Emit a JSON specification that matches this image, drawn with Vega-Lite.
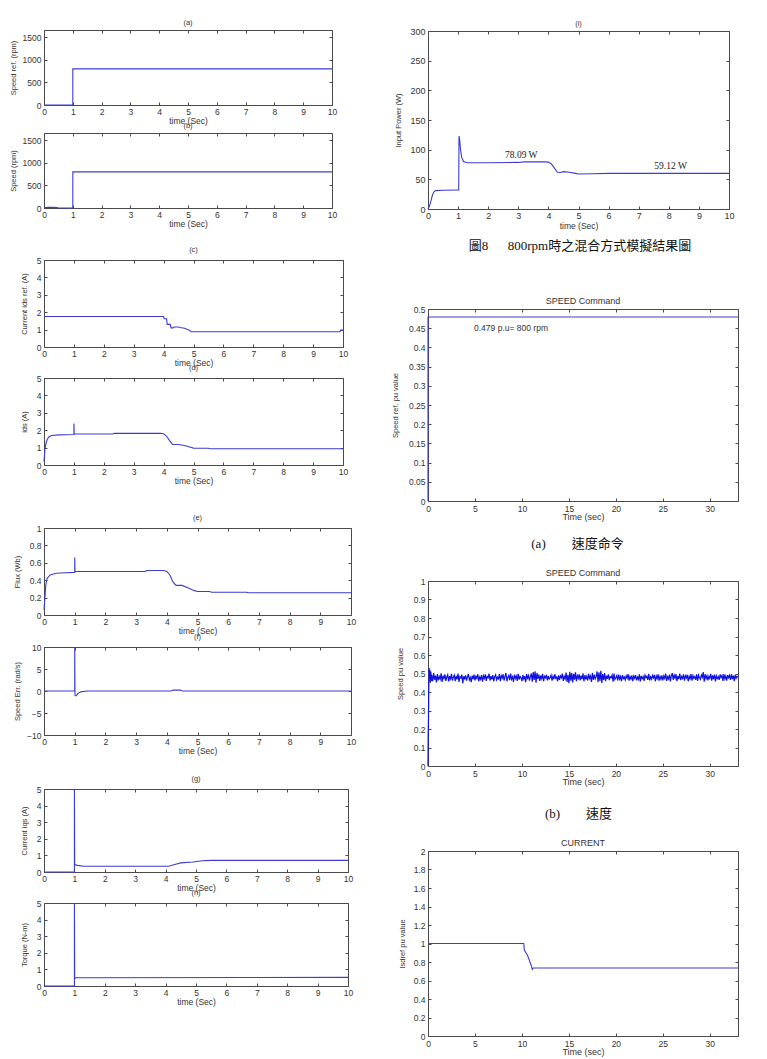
{
  "$schema": "https://vega.github.io/schema/vega-lite/v6.json",
  "background": "white",
  "padding": {"left": 8, "top": 0, "right": 0, "bottom": 0},
  "spacing": 33,
  "config": {
    "numberFormat": "~f",
    "view": {"stroke": "#4a4a4a", "strokeWidth": 1},
    "axis": {"grid": false, "domain": false, "ticks": true, "tickSize": -3, "tickColor": "#4a4a4a", "tickWidth": 1, "labelFont": "Liberation Sans", "labelFontSize": 8.5, "labelColor": "#333333", "labelPadding": 5, "labelFlush": false, "labelOverlap": false, "titleFont": "Liberation Sans", "titleFontSize": 8.5, "titleFontWeight": "normal", "titleColor": "#333333", "titlePadding": 1},
    "axisY": {"titleFontSize": 7.5, "titlePadding": 8, "labelPadding": 6},
    "title": {"font": "Liberation Sans", "fontSize": 7.5, "fontWeight": "normal", "color": "#333333", "offset": 3, "anchor": "middle"},
    "line": {"color": "#3c3cd2", "strokeWidth": 1.1, "clip": true}
  },
  "hconcat": [
    {
      "vconcat": [
        {"width": 100, "height": 30, "view": {"stroke": null}, "data": {"values": []}, "mark": "point"},
        {
          "width": 288, "height": 75, "title": {"text": "(a)"},
          "layer": [
            {"data": {"values": [{"t": 0, "v": 0}, {"t": 1, "v": 0}, {"t": 1.001, "v": 800}, {"t": 10, "v": 800}]},
             "mark": "line",
             "encoding": {
               "x": {"field": "t", "type": "quantitative", "scale": {"domain": [0, 10], "nice": false}, "axis": {"values": [0,1,2,3,4,5,6,7,8,9,10], "title": "time (Sec)"}},
               "y": {"field": "v", "type": "quantitative", "scale": {"domain": [0, 1660], "nice": false}, "axis": {"values": [0,500,1000,1500], "title": "Speed ref. (rpm)", "titlePadding": 5}}}},
            {"data": {"values": [{"t": 0, "v": 0}]}, "mark": {"type": "point", "opacity": 0},
             "encoding": {
               "x": {"field": "t", "type": "quantitative", "scale": {"domain": [0, 10], "nice": false}, "axis": {"orient": "top", "values": [0,1,2,3,4,5,6,7,8,9,10], "labels": false, "title": null}},
               "y": {"field": "v", "type": "quantitative", "scale": {"domain": [0, 1660], "nice": false}, "axis": {"orient": "right", "values": [0,500,1000,1500], "labels": false, "title": null}}}}
          ],
          "resolve": {"axis": {"x": "independent", "y": "independent"}}
        },
        {"width": 100, "height": 28, "view": {"stroke": null}, "data": {"values": []}, "mark": "point"},
        {
          "width": 288, "height": 75, "title": {"text": "(b)"},
          "layer": [
            {"data": {"values": [{"t": 0, "v": 0}, {"t": 0.05, "v": 12}, {"t": 0.15, "v": 18}, {"t": 0.3, "v": 14}, {"t": 0.45, "v": 8}, {"t": 0.5, "v": 0}, {"t": 1, "v": 0}, {"t": 1.001, "v": 800}, {"t": 10, "v": 800}]},
             "mark": "line",
             "encoding": {
               "x": {"field": "t", "type": "quantitative", "scale": {"domain": [0, 10], "nice": false}, "axis": {"values": [0,1,2,3,4,5,6,7,8,9,10], "title": "time (Sec)"}},
               "y": {"field": "v", "type": "quantitative", "scale": {"domain": [0, 1660], "nice": false}, "axis": {"values": [0,500,1000,1500], "title": "Speed (rpm)", "titlePadding": 5}}}},
            {"data": {"values": [{"t": 0, "v": 0}]}, "mark": {"type": "point", "opacity": 0},
             "encoding": {
               "x": {"field": "t", "type": "quantitative", "scale": {"domain": [0, 10], "nice": false}, "axis": {"orient": "top", "values": [0,1,2,3,4,5,6,7,8,9,10], "labels": false, "title": null}},
               "y": {"field": "v", "type": "quantitative", "scale": {"domain": [0, 1660], "nice": false}, "axis": {"orient": "right", "values": [0,500,1000,1500], "labels": false, "title": null}}}}
          ],
          "resolve": {"axis": {"x": "independent", "y": "independent"}}
        },
        {"width": 100, "height": 52, "view": {"stroke": null}, "data": {"values": []}, "mark": "point"},
        {
          "width": 299, "height": 87, "title": {"text": "(c)"},
          "layer": [
            {"data": {"values": [
              {"t": 0, "v": 1.75}, {"t": 4.0, "v": 1.75}, {"t": 4.02, "v": 1.62}, {"t": 4.1, "v": 1.62}, {"t": 4.12, "v": 1.3},
              {"t": 4.22, "v": 1.3}, {"t": 4.25, "v": 1.1}, {"t": 4.32, "v": 1.1}, {"t": 4.35, "v": 1.15}, {"t": 4.5, "v": 1.15},
              {"t": 4.55, "v": 1.12}, {"t": 4.7, "v": 1.08}, {"t": 4.8, "v": 1.0}, {"t": 4.88, "v": 0.95}, {"t": 4.92, "v": 0.88},
              {"t": 9.9, "v": 0.88}, {"t": 9.92, "v": 0.97}, {"t": 10, "v": 0.97}]},
             "mark": "line",
             "encoding": {
               "x": {"field": "t", "type": "quantitative", "scale": {"domain": [0, 10], "nice": false}, "axis": {"values": [0,1,2,3,4,5,6,7,8,9,10], "title": "time (Sec)"}},
               "y": {"field": "v", "type": "quantitative", "scale": {"domain": [0, 5], "nice": false}, "axis": {"values": [0,1,2,3,4,5], "title": "Current ids ref. (A)"}}}},
            {"data": {"values": [{"t": 0, "v": 0}]}, "mark": {"type": "point", "opacity": 0},
             "encoding": {
               "x": {"field": "t", "type": "quantitative", "scale": {"domain": [0, 10], "nice": false}, "axis": {"orient": "top", "values": [0,1,2,3,4,5,6,7,8,9,10], "labels": false, "title": null}},
               "y": {"field": "v", "type": "quantitative", "scale": {"domain": [0, 5], "nice": false}, "axis": {"orient": "right", "values": [0,1,2,3,4,5], "labels": false, "title": null}}}}
          ],
          "resolve": {"axis": {"x": "independent", "y": "independent"}}
        },
        {"width": 100, "height": 31, "view": {"stroke": null}, "data": {"values": []}, "mark": "point"},
        {
          "width": 299, "height": 87, "title": {"text": "(d)"},
          "layer": [
            {"data": {"values": [
              {"t": 0, "v": 0.2}, {"t": 0.03, "v": 0.9}, {"t": 0.08, "v": 1.35}, {"t": 0.15, "v": 1.6}, {"t": 0.25, "v": 1.7},
              {"t": 0.5, "v": 1.73}, {"t": 1.0, "v": 1.75}, {"t": 1.001, "v": 2.38}, {"t": 1.01, "v": 1.78}, {"t": 2.3, "v": 1.78},
              {"t": 2.35, "v": 1.82}, {"t": 3.9, "v": 1.82}, {"t": 4.0, "v": 1.8}, {"t": 4.1, "v": 1.65}, {"t": 4.2, "v": 1.4},
              {"t": 4.3, "v": 1.18}, {"t": 4.5, "v": 1.18}, {"t": 4.7, "v": 1.12}, {"t": 4.9, "v": 1.02}, {"t": 5.0, "v": 0.97},
              {"t": 5.5, "v": 0.96}, {"t": 5.55, "v": 0.93}, {"t": 10, "v": 0.93}]},
             "mark": "line",
             "encoding": {
               "x": {"field": "t", "type": "quantitative", "scale": {"domain": [0, 10], "nice": false}, "axis": {"values": [0,1,2,3,4,5,6,7,8,9,10], "title": "time (Sec)"}},
               "y": {"field": "v", "type": "quantitative", "scale": {"domain": [0, 5], "nice": false}, "axis": {"values": [0,1,2,3,4,5], "title": "ids (A)"}}}},
            {"data": {"values": [{"t": 0, "v": 0}]}, "mark": {"type": "point", "opacity": 0},
             "encoding": {
               "x": {"field": "t", "type": "quantitative", "scale": {"domain": [0, 10], "nice": false}, "axis": {"orient": "top", "values": [0,1,2,3,4,5,6,7,8,9,10], "labels": false, "title": null}},
               "y": {"field": "v", "type": "quantitative", "scale": {"domain": [0, 5], "nice": false}, "axis": {"orient": "right", "values": [0,1,2,3,4,5], "labels": false, "title": null}}}}
          ],
          "resolve": {"axis": {"x": "independent", "y": "independent"}}
        },
        {"width": 100, "height": 63, "view": {"stroke": null}, "data": {"values": []}, "mark": "point"},
        {
          "width": 307, "height": 87, "title": {"text": "(e)"},
          "layer": [
            {"data": {"values": [
              {"t": 0, "v": 0.06}, {"t": 0.03, "v": 0.2}, {"t": 0.06, "v": 0.35}, {"t": 0.1, "v": 0.42}, {"t": 0.2, "v": 0.46},
              {"t": 0.4, "v": 0.48}, {"t": 0.7, "v": 0.485}, {"t": 1.0, "v": 0.49}, {"t": 1.001, "v": 0.66}, {"t": 1.01, "v": 0.5},
              {"t": 3.3, "v": 0.5}, {"t": 3.35, "v": 0.512}, {"t": 3.9, "v": 0.512}, {"t": 4.0, "v": 0.5}, {"t": 4.1, "v": 0.46},
              {"t": 4.2, "v": 0.38}, {"t": 4.3, "v": 0.34}, {"t": 4.5, "v": 0.34}, {"t": 4.7, "v": 0.31}, {"t": 4.9, "v": 0.28},
              {"t": 5.0, "v": 0.27}, {"t": 5.4, "v": 0.27}, {"t": 5.45, "v": 0.262}, {"t": 6.6, "v": 0.262}, {"t": 6.65, "v": 0.255},
              {"t": 10, "v": 0.255}]},
             "mark": "line",
             "encoding": {
               "x": {"field": "t", "type": "quantitative", "scale": {"domain": [0, 10], "nice": false}, "axis": {"values": [0,1,2,3,4,5,6,7,8,9,10], "title": "time (Sec)"}},
               "y": {"field": "v", "type": "quantitative", "scale": {"domain": [0, 1], "nice": false}, "axis": {"values": [0,0.2,0.4,0.6,0.8,1], "format": ".1~f", "title": "Flux (Wb)"}}}},
            {"data": {"values": [{"t": 0, "v": 0}]}, "mark": {"type": "point", "opacity": 0},
             "encoding": {
               "x": {"field": "t", "type": "quantitative", "scale": {"domain": [0, 10], "nice": false}, "axis": {"orient": "top", "values": [0,1,2,3,4,5,6,7,8,9,10], "labels": false, "title": null}},
               "y": {"field": "v", "type": "quantitative", "scale": {"domain": [0, 1], "nice": false}, "axis": {"orient": "right", "values": [0,0.2,0.4,0.6,0.8,1], "labels": false, "title": null}}}}
          ],
          "resolve": {"axis": {"x": "independent", "y": "independent"}}
        },
        {"width": 100, "height": 32, "view": {"stroke": null}, "data": {"values": []}, "mark": "point"},
        {
          "width": 307, "height": 88, "title": {"text": "(f)"},
          "layer": [
            {"data": {"values": [
              {"t": 0, "v": 0}, {"t": 1, "v": 0}, {"t": 1.001, "v": 10}, {"t": 1.01, "v": -1}, {"t": 1.05, "v": -1.1},
              {"t": 1.1, "v": -0.6}, {"t": 1.2, "v": -0.2}, {"t": 1.4, "v": 0}, {"t": 4.15, "v": 0}, {"t": 4.2, "v": 0.2},
              {"t": 4.45, "v": 0.2}, {"t": 4.5, "v": 0}, {"t": 10, "v": 0}]},
             "mark": "line",
             "encoding": {
               "x": {"field": "t", "type": "quantitative", "scale": {"domain": [0, 10], "nice": false}, "axis": {"values": [0,1,2,3,4,5,6,7,8,9,10], "title": "time (Sec)"}},
               "y": {"field": "v", "type": "quantitative", "scale": {"domain": [-10, 10], "nice": false}, "axis": {"values": [-10,-5,0,5,10], "title": "Speed Err. (rad/s)", "titlePadding": 5}}}},
            {"data": {"values": [{"t": 0, "v": 0}]}, "mark": {"type": "point", "opacity": 0},
             "encoding": {
               "x": {"field": "t", "type": "quantitative", "scale": {"domain": [0, 10], "nice": false}, "axis": {"orient": "top", "values": [0,1,2,3,4,5,6,7,8,9,10], "labels": false, "title": null}},
               "y": {"field": "v", "type": "quantitative", "scale": {"domain": [-10, 10], "nice": false}, "axis": {"orient": "right", "values": [-10,-5,0,5,10], "labels": false, "title": null}}}}
          ],
          "resolve": {"axis": {"x": "independent", "y": "independent"}}
        },
        {"width": 100, "height": 54, "view": {"stroke": null}, "data": {"values": []}, "mark": "point"},
        {
          "width": 304, "height": 83, "title": {"text": "(g)"},
          "layer": [
            {"data": {"values": [
              {"t": 0, "v": 0}, {"t": 1, "v": 0}, {"t": 1.001, "v": 5}, {"t": 1.01, "v": 0.45}, {"t": 1.1, "v": 0.4},
              {"t": 1.3, "v": 0.35}, {"t": 4.1, "v": 0.35}, {"t": 4.3, "v": 0.45}, {"t": 4.5, "v": 0.55}, {"t": 4.9, "v": 0.6},
              {"t": 5.2, "v": 0.68}, {"t": 5.5, "v": 0.7}, {"t": 10, "v": 0.7}]},
             "mark": "line",
             "encoding": {
               "x": {"field": "t", "type": "quantitative", "scale": {"domain": [0, 10], "nice": false}, "axis": {"values": [0,1,2,3,4,5,6,7,8,9,10], "title": "time (Sec)"}},
               "y": {"field": "v", "type": "quantitative", "scale": {"domain": [0, 5], "nice": false}, "axis": {"values": [0,1,2,3,4,5], "title": "Current iqs (A)"}}}},
            {"data": {"values": [{"t": 0, "v": 0}]}, "mark": {"type": "point", "opacity": 0},
             "encoding": {
               "x": {"field": "t", "type": "quantitative", "scale": {"domain": [0, 10], "nice": false}, "axis": {"orient": "top", "values": [0,1,2,3,4,5,6,7,8,9,10], "labels": false, "title": null}},
               "y": {"field": "v", "type": "quantitative", "scale": {"domain": [0, 5], "nice": false}, "axis": {"orient": "right", "values": [0,1,2,3,4,5], "labels": false, "title": null}}}}
          ],
          "resolve": {"axis": {"x": "independent", "y": "independent"}}
        },
        {"width": 100, "height": 31, "view": {"stroke": null}, "data": {"values": []}, "mark": "point"},
        {
          "width": 304, "height": 83, "title": {"text": "(h)"},
          "layer": [
            {"data": {"values": [
              {"t": 0, "v": 0}, {"t": 1, "v": 0}, {"t": 1.001, "v": 5}, {"t": 1.01, "v": 0.45}, {"t": 1.05, "v": 0.5}, {"t": 10, "v": 0.52}]},
             "mark": "line",
             "encoding": {
               "x": {"field": "t", "type": "quantitative", "scale": {"domain": [0, 10], "nice": false}, "axis": {"values": [0,1,2,3,4,5,6,7,8,9,10], "title": "time (Sec)"}},
               "y": {"field": "v", "type": "quantitative", "scale": {"domain": [0, 5], "nice": false}, "axis": {"values": [0,1,2,3,4,5], "title": "Torque (N-m)"}}}},
            {"data": {"values": [{"t": 0, "v": 0}]}, "mark": {"type": "point", "opacity": 0},
             "encoding": {
               "x": {"field": "t", "type": "quantitative", "scale": {"domain": [0, 10], "nice": false}, "axis": {"orient": "top", "values": [0,1,2,3,4,5,6,7,8,9,10], "labels": false, "title": null}},
               "y": {"field": "v", "type": "quantitative", "scale": {"domain": [0, 5], "nice": false}, "axis": {"orient": "right", "values": [0,1,2,3,4,5], "labels": false, "title": null}}}}
          ],
          "resolve": {"axis": {"x": "independent", "y": "independent"}}
        }
      ],
      "spacing": 0,
      "bounds": "flush"
    },
    {
      "vconcat": [
        {"width": 100, "height": 31, "view": {"stroke": null}, "data": {"values": []}, "mark": "point"},
        {
          "width": 301, "height": 178, "title": {"text": "(i)", "offset": 0},
          "layer": [
            {"data": {"values": [
              {"t": 0, "v": 0}, {"t": 0.05, "v": 5}, {"t": 0.1, "v": 14}, {"t": 0.15, "v": 24}, {"t": 0.2, "v": 29}, {"t": 0.25, "v": 31},
              {"t": 0.5, "v": 31.5}, {"t": 1.0, "v": 32}, {"t": 1.02, "v": 32}, {"t": 1.03, "v": 123}, {"t": 1.05, "v": 118},
              {"t": 1.08, "v": 100}, {"t": 1.12, "v": 87}, {"t": 1.18, "v": 80}, {"t": 1.3, "v": 78}, {"t": 2.0, "v": 78},
              {"t": 3.0, "v": 78.5}, {"t": 3.2, "v": 79.5}, {"t": 3.9, "v": 79.5}, {"t": 4.0, "v": 79}, {"t": 4.1, "v": 76},
              {"t": 4.2, "v": 69}, {"t": 4.3, "v": 62}, {"t": 4.4, "v": 61.5}, {"t": 4.5, "v": 63}, {"t": 4.7, "v": 62},
              {"t": 4.9, "v": 60}, {"t": 5.0, "v": 59}, {"t": 5.5, "v": 59.5}, {"t": 6.0, "v": 60}, {"t": 10, "v": 60}]},
             "mark": "line",
             "encoding": {
               "x": {"field": "t", "type": "quantitative", "scale": {"domain": [0, 10], "nice": false}, "axis": {"values": [0,1,2,3,4,5,6,7,8,9,10], "title": "time (Sec)", "labelFontSize": 9}},
               "y": {"field": "v", "type": "quantitative", "scale": {"domain": [0, 300], "nice": false}, "axis": {"values": [0,50,100,150,200,250,300], "title": "Input Power (W)", "labelFontSize": 9, "titlePadding": 7}}}},
            {"data": {"values": [{"t": 3.1, "v": 91, "label": "78.09 W"}, {"t": 8.06, "v": 72, "label": "59.12 W"}]},
             "mark": {"type": "text", "font": "Liberation Serif", "fontSize": 9.5, "color": "#222222"},
             "encoding": {
               "x": {"field": "t", "type": "quantitative", "scale": {"domain": [0, 10], "nice": false}, "axis": null},
               "y": {"field": "v", "type": "quantitative", "scale": {"domain": [0, 300], "nice": false}, "axis": null},
               "text": {"field": "label"}}},
            {"data": {"values": [{"t": 0, "v": 0}]}, "mark": {"type": "point", "opacity": 0},
             "encoding": {
               "x": {"field": "t", "type": "quantitative", "scale": {"domain": [0, 10], "nice": false}, "axis": {"orient": "top", "values": [0,1,2,3,4,5,6,7,8,9,10], "labels": false, "title": null}},
               "y": {"field": "v", "type": "quantitative", "scale": {"domain": [0, 300], "nice": false}, "axis": {"orient": "right", "values": [0,50,100,150,200,250,300], "labels": false, "title": null}}}}
          ],
          "resolve": {"axis": {"x": "independent", "y": "independent"}}
        },
        {"width": 100, "height": 54, "view": {"stroke": null}, "data": {"values": []}, "mark": "point"},
        {"width": 304, "height": 46, "view": {"stroke": null}, "data": {"values": []}, "mark": "point",
         "title": {"text": "圖8\u3000\u2002800rpm時之混合方式模擬結果圖", "font": "'Liberation Serif', 'Noto Sans CJK TC'", "fontSize": 13, "color": "#111111", "offset": 0, "baseline": "alphabetic", "anchor": "middle", "frame": "group"}},
        {
          "width": 310, "height": 192, "title": {"text": "SPEED Command", "fontSize": 9, "offset": -1},
          "layer": [
            {"data": {"values": [{"t": 0, "v": 0}, {"t": 0.001, "v": 0.479}, {"t": 33, "v": 0.479}]},
             "mark": "line",
             "encoding": {
               "x": {"field": "t", "type": "quantitative", "scale": {"domain": [0, 33], "nice": false}, "axis": {"values": [0,5,10,15,20,25,30], "title": "Time (sec)", "titleFontSize": 9, "labelPadding": 6, "titlePadding": 0}},
               "y": {"field": "v", "type": "quantitative", "scale": {"domain": [0, 0.5], "nice": false}, "axis": {"values": [0,0.05,0.1,0.15,0.2,0.25,0.3,0.35,0.4,0.45,0.5], "format": ".2~f", "title": "Speed ref. pu value", "titlePadding": 9}}}},
            {"data": {"values": [{"t": 4.9, "v": 0.45, "label": "0.479 p.u= 800 rpm"}]},
             "mark": {"type": "text", "align": "left", "font": "Liberation Sans", "fontSize": 8.5, "color": "#333333"},
             "encoding": {
               "x": {"field": "t", "type": "quantitative", "scale": {"domain": [0, 33], "nice": false}, "axis": null},
               "y": {"field": "v", "type": "quantitative", "scale": {"domain": [0, 0.5], "nice": false}, "axis": null},
               "text": {"field": "label"}}},
            {"data": {"values": [{"t": 0, "v": 0}]}, "mark": {"type": "point", "opacity": 0},
             "encoding": {
               "x": {"field": "t", "type": "quantitative", "scale": {"domain": [0, 33], "nice": false}, "axis": {"orient": "top", "values": [0,5,10,15,20,25,30], "labels": false, "title": null}},
               "y": {"field": "v", "type": "quantitative", "scale": {"domain": [0, 0.5], "nice": false}, "axis": {"orient": "right", "values": [0,0.05,0.1,0.15,0.2,0.25,0.3,0.35,0.4,0.45,0.5], "labels": false, "title": null}}}}
          ],
          "resolve": {"axis": {"x": "independent", "y": "independent"}}
        },
        {"width": 100, "height": 60, "view": {"stroke": null}, "data": {"values": []}, "mark": "point"},
        {"width": 299, "height": 20, "view": {"stroke": null}, "data": {"values": []}, "mark": "point",
         "title": {"text": "(a)\u3000\u3000速度命令", "font": "'Liberation Serif', 'Noto Sans CJK TC'", "fontSize": 13, "color": "#111111", "offset": 0, "baseline": "alphabetic", "anchor": "middle", "frame": "group"}},
        {
          "width": 310, "height": 185, "title": {"text": "SPEED Command", "fontSize": 9, "offset": -1},
          "layer": [
            {"data": {"values": [
              {"t": 0, "v": 0}, {"t": 0.02, "v": 0.17}, {"t": 0.05, "v": 0.25}, {"t": 0.08, "v": 0.41}, {"t": 0.12, "v": 0.53},
              {"t": 0.16, "v": 0.47}, {"t": 0.2, "v": 0.52}, {"t": 0.25, "v": 0.45}, {"t": 0.3, "v": 0.51}, {"t": 0.35, "v": 0.46},
              {"t": 0.4, "v": 0.492}, {"t": 0.5, "v": 0.458}, {"t": 0.6, "v": 0.503}, {"t": 0.7, "v": 0.466}, {"t": 0.8, "v": 0.489}, {"t": 0.9, "v": 0.452},
              {"t": 1.0, "v": 0.497}, {"t": 1.1, "v": 0.463}, {"t": 1.2, "v": 0.484}, {"t": 1.3, "v": 0.47}, {"t": 1.4, "v": 0.501}, {"t": 1.5, "v": 0.455}, {"t": 1.6, "v": 0.488}, {"t": 1.7, "v": 0.474}, {"t": 1.8, "v": 0.495}, {"t": 1.9, "v": 0.46},
              {"t": 2.0, "v": 0.481}, {"t": 2.1, "v": 0.493}, {"t": 2.2, "v": 0.457}, {"t": 2.3, "v": 0.486}, {"t": 2.4, "v": 0.471}, {"t": 2.5, "v": 0.498}, {"t": 2.6, "v": 0.462}, {"t": 2.7, "v": 0.48}, {"t": 2.8, "v": 0.491}, {"t": 2.9, "v": 0.459},
              {"t": 3.0, "v": 0.487}, {"t": 3.1, "v": 0.468}, {"t": 3.2, "v": 0.499}, {"t": 3.3, "v": 0.454}, {"t": 3.4, "v": 0.483}, {"t": 3.5, "v": 0.476}, {"t": 3.6, "v": 0.494}, {"t": 3.7, "v": 0.447}, {"t": 3.8, "v": 0.485}, {"t": 3.9, "v": 0.472},
              {"t": 4.0, "v": 0.49}, {"t": 4.1, "v": 0.461}, {"t": 4.2, "v": 0.482}, {"t": 4.3, "v": 0.497}, {"t": 4.4, "v": 0.465}, {"t": 4.5, "v": 0.479}, {"t": 4.6, "v": 0.453}, {"t": 4.7, "v": 0.488}, {"t": 4.8, "v": 0.47}, {"t": 4.9, "v": 0.494},
              {"t": 5.0, "v": 0.463}, {"t": 5.1, "v": 0.485}, {"t": 5.2, "v": 0.474}, {"t": 5.3, "v": 0.496}, {"t": 5.4, "v": 0.458}, {"t": 5.5, "v": 0.481}, {"t": 5.6, "v": 0.469}, {"t": 5.7, "v": 0.492}, {"t": 5.8, "v": 0.456}, {"t": 5.9, "v": 0.487},
              {"t": 6.0, "v": 0.473}, {"t": 6.1, "v": 0.495}, {"t": 6.2, "v": 0.46}, {"t": 6.3, "v": 0.484}, {"t": 6.4, "v": 0.477}, {"t": 6.5, "v": 0.499}, {"t": 6.6, "v": 0.462}, {"t": 6.7, "v": 0.486}, {"t": 6.8, "v": 0.468}, {"t": 6.9, "v": 0.491},
              {"t": 7.0, "v": 0.457}, {"t": 7.1, "v": 0.483}, {"t": 7.2, "v": 0.494}, {"t": 7.3, "v": 0.466}, {"t": 7.4, "v": 0.48}, {"t": 7.5, "v": 0.471}, {"t": 7.6, "v": 0.497}, {"t": 7.7, "v": 0.459}, {"t": 7.8, "v": 0.488}, {"t": 7.9, "v": 0.475},
              {"t": 8.0, "v": 0.496}, {"t": 8.1, "v": 0.462}, {"t": 8.2, "v": 0.485}, {"t": 8.3, "v": 0.503}, {"t": 8.4, "v": 0.458}, {"t": 8.5, "v": 0.479}, {"t": 8.6, "v": 0.49}, {"t": 8.7, "v": 0.464}, {"t": 8.8, "v": 0.5}, {"t": 8.9, "v": 0.469},
              {"t": 9.0, "v": 0.482}, {"t": 9.1, "v": 0.455}, {"t": 9.2, "v": 0.494}, {"t": 9.3, "v": 0.473}, {"t": 9.4, "v": 0.487}, {"t": 9.5, "v": 0.46}, {"t": 9.6, "v": 0.498}, {"t": 9.7, "v": 0.467}, {"t": 9.8, "v": 0.484}, {"t": 9.9, "v": 0.477},
              {"t": 10.0, "v": 0.459}, {"t": 10.1, "v": 0.492}, {"t": 10.2, "v": 0.47}, {"t": 10.3, "v": 0.486}, {"t": 10.4, "v": 0.453}, {"t": 10.5, "v": 0.497}, {"t": 10.6, "v": 0.475}, {"t": 10.7, "v": 0.489}, {"t": 10.8, "v": 0.462}, {"t": 10.9, "v": 0.483},
              {"t": 11.0, "v": 0.5}, {"t": 11.1, "v": 0.456}, {"t": 11.2, "v": 0.508}, {"t": 11.3, "v": 0.465}, {"t": 11.4, "v": 0.512}, {"t": 11.5, "v": 0.45}, {"t": 11.6, "v": 0.503}, {"t": 11.7, "v": 0.471}, {"t": 11.8, "v": 0.494}, {"t": 11.9, "v": 0.46},
              {"t": 12.0, "v": 0.489}, {"t": 12.1, "v": 0.473}, {"t": 12.2, "v": 0.498}, {"t": 12.3, "v": 0.458}, {"t": 12.4, "v": 0.484}, {"t": 12.5, "v": 0.476}, {"t": 12.6, "v": 0.493}, {"t": 12.7, "v": 0.463}, {"t": 12.8, "v": 0.487}, {"t": 12.9, "v": 0.47},
              {"t": 13.0, "v": 0.478}, {"t": 13.1, "v": 0.491}, {"t": 13.2, "v": 0.462}, {"t": 13.3, "v": 0.485}, {"t": 13.4, "v": 0.469}, {"t": 13.5, "v": 0.496}, {"t": 13.6, "v": 0.474}, {"t": 13.7, "v": 0.481}, {"t": 13.8, "v": 0.458}, {"t": 13.9, "v": 0.49},
              {"t": 14.0, "v": 0.466}, {"t": 14.1, "v": 0.487}, {"t": 14.2, "v": 0.477}, {"t": 14.3, "v": 0.499}, {"t": 14.4, "v": 0.46}, {"t": 14.5, "v": 0.484}, {"t": 14.6, "v": 0.471}, {"t": 14.7, "v": 0.505}, {"t": 14.8, "v": 0.455}, {"t": 14.9, "v": 0.493},
              {"t": 15.0, "v": 0.448}, {"t": 15.1, "v": 0.509}, {"t": 15.2, "v": 0.461}, {"t": 15.3, "v": 0.502}, {"t": 15.4, "v": 0.452}, {"t": 15.5, "v": 0.498}, {"t": 15.6, "v": 0.467}, {"t": 15.7, "v": 0.506}, {"t": 15.8, "v": 0.459}, {"t": 15.9, "v": 0.488},
              {"t": 16.0, "v": 0.474}, {"t": 16.1, "v": 0.496}, {"t": 16.2, "v": 0.463}, {"t": 16.3, "v": 0.489}, {"t": 16.4, "v": 0.47}, {"t": 16.5, "v": 0.501}, {"t": 16.6, "v": 0.457}, {"t": 16.7, "v": 0.492}, {"t": 16.8, "v": 0.468}, {"t": 16.9, "v": 0.485},
              {"t": 17.0, "v": 0.462}, {"t": 17.1, "v": 0.498}, {"t": 17.2, "v": 0.474}, {"t": 17.3, "v": 0.487}, {"t": 17.4, "v": 0.455}, {"t": 17.5, "v": 0.503}, {"t": 17.6, "v": 0.466}, {"t": 17.7, "v": 0.494}, {"t": 17.8, "v": 0.471}, {"t": 17.9, "v": 0.483},
              {"t": 18.0, "v": 0.511}, {"t": 18.1, "v": 0.453}, {"t": 18.2, "v": 0.506}, {"t": 18.3, "v": 0.46}, {"t": 18.4, "v": 0.514}, {"t": 18.5, "v": 0.449}, {"t": 18.6, "v": 0.497}, {"t": 18.7, "v": 0.465}, {"t": 18.8, "v": 0.502}, {"t": 18.9, "v": 0.458},
              {"t": 19.0, "v": 0.488}, {"t": 19.1, "v": 0.471}, {"t": 19.2, "v": 0.495}, {"t": 19.3, "v": 0.464}, {"t": 19.4, "v": 0.483}, {"t": 19.5, "v": 0.478}, {"t": 19.6, "v": 0.491}, {"t": 19.7, "v": 0.456}, {"t": 19.8, "v": 0.499}, {"t": 19.9, "v": 0.468},
              {"t": 20.0, "v": 0.477}, {"t": 20.1, "v": 0.489}, {"t": 20.2, "v": 0.462}, {"t": 20.3, "v": 0.494}, {"t": 20.4, "v": 0.47}, {"t": 20.5, "v": 0.484}, {"t": 20.6, "v": 0.458}, {"t": 20.7, "v": 0.492}, {"t": 20.8, "v": 0.473}, {"t": 20.9, "v": 0.481},
              {"t": 21.0, "v": 0.465}, {"t": 21.1, "v": 0.488}, {"t": 21.2, "v": 0.475}, {"t": 21.3, "v": 0.497}, {"t": 21.4, "v": 0.461}, {"t": 21.5, "v": 0.483}, {"t": 21.6, "v": 0.47}, {"t": 21.7, "v": 0.49}, {"t": 21.8, "v": 0.459}, {"t": 21.9, "v": 0.486},
              {"t": 22.0, "v": 0.474}, {"t": 22.1, "v": 0.492}, {"t": 22.2, "v": 0.463}, {"t": 22.3, "v": 0.481}, {"t": 22.4, "v": 0.468}, {"t": 22.5, "v": 0.495}, {"t": 22.6, "v": 0.457}, {"t": 22.7, "v": 0.487}, {"t": 22.8, "v": 0.472}, {"t": 22.9, "v": 0.484},
              {"t": 23.0, "v": 0.46}, {"t": 23.1, "v": 0.491}, {"t": 23.2, "v": 0.477}, {"t": 23.3, "v": 0.485}, {"t": 23.4, "v": 0.466}, {"t": 23.5, "v": 0.498}, {"t": 23.6, "v": 0.463}, {"t": 23.7, "v": 0.482}, {"t": 23.8, "v": 0.47}, {"t": 23.9, "v": 0.489},
              {"t": 24.0, "v": 0.476}, {"t": 24.1, "v": 0.493}, {"t": 24.2, "v": 0.458}, {"t": 24.3, "v": 0.486}, {"t": 24.4, "v": 0.472}, {"t": 24.5, "v": 0.496}, {"t": 24.6, "v": 0.461}, {"t": 24.7, "v": 0.484}, {"t": 24.8, "v": 0.469}, {"t": 24.9, "v": 0.49},
              {"t": 25.0, "v": 0.463}, {"t": 25.1, "v": 0.487}, {"t": 25.2, "v": 0.474}, {"t": 25.3, "v": 0.499}, {"t": 25.4, "v": 0.46}, {"t": 25.5, "v": 0.482}, {"t": 25.6, "v": 0.471}, {"t": 25.7, "v": 0.494}, {"t": 25.8, "v": 0.457}, {"t": 25.9, "v": 0.488},
              {"t": 26.0, "v": 0.502}, {"t": 26.1, "v": 0.466}, {"t": 26.2, "v": 0.491}, {"t": 26.3, "v": 0.475}, {"t": 26.4, "v": 0.497}, {"t": 26.5, "v": 0.459}, {"t": 26.6, "v": 0.486}, {"t": 26.7, "v": 0.47}, {"t": 26.8, "v": 0.5}, {"t": 26.9, "v": 0.464},
              {"t": 27.0, "v": 0.484}, {"t": 27.1, "v": 0.473}, {"t": 27.2, "v": 0.495}, {"t": 27.3, "v": 0.461}, {"t": 27.4, "v": 0.488}, {"t": 27.5, "v": 0.476}, {"t": 27.6, "v": 0.493}, {"t": 27.7, "v": 0.458}, {"t": 27.8, "v": 0.485}, {"t": 27.9, "v": 0.471},
              {"t": 28.0, "v": 0.497}, {"t": 28.1, "v": 0.462}, {"t": 28.2, "v": 0.489}, {"t": 28.3, "v": 0.474}, {"t": 28.4, "v": 0.483}, {"t": 28.5, "v": 0.466}, {"t": 28.6, "v": 0.495}, {"t": 28.7, "v": 0.46}, {"t": 28.8, "v": 0.491}, {"t": 28.9, "v": 0.477},
              {"t": 29.0, "v": 0.468}, {"t": 29.1, "v": 0.492}, {"t": 29.2, "v": 0.479}, {"t": 29.3, "v": 0.508}, {"t": 29.4, "v": 0.456}, {"t": 29.5, "v": 0.496}, {"t": 29.6, "v": 0.472}, {"t": 29.7, "v": 0.488}, {"t": 29.8, "v": 0.463}, {"t": 29.9, "v": 0.485},
              {"t": 30.0, "v": 0.474}, {"t": 30.1, "v": 0.498}, {"t": 30.2, "v": 0.461}, {"t": 30.3, "v": 0.49}, {"t": 30.4, "v": 0.469}, {"t": 30.5, "v": 0.494}, {"t": 30.6, "v": 0.457}, {"t": 30.7, "v": 0.487}, {"t": 30.8, "v": 0.473}, {"t": 30.9, "v": 0.483},
              {"t": 31.0, "v": 0.466}, {"t": 31.1, "v": 0.495}, {"t": 31.2, "v": 0.478}, {"t": 31.3, "v": 0.489}, {"t": 31.4, "v": 0.46}, {"t": 31.5, "v": 0.497}, {"t": 31.6, "v": 0.471}, {"t": 31.7, "v": 0.486}, {"t": 31.8, "v": 0.462}, {"t": 31.9, "v": 0.492},
              {"t": 32.0, "v": 0.477}, {"t": 32.1, "v": 0.49}, {"t": 32.2, "v": 0.465}, {"t": 32.3, "v": 0.496}, {"t": 32.4, "v": 0.47}, {"t": 32.5, "v": 0.488}, {"t": 32.6, "v": 0.459}, {"t": 32.7, "v": 0.493}, {"t": 32.8, "v": 0.474}, {"t": 32.9, "v": 0.485},
              {"t": 33.0, "v": 0.48}]},
             "mark": {"type": "line", "color": "#1010e0", "strokeWidth": 1.2},
             "encoding": {
               "x": {"field": "t", "type": "quantitative", "scale": {"domain": [0, 33], "nice": false}, "axis": {"values": [0,5,10,15,20,25,30], "title": "Time (sec)", "titleFontSize": 9, "labelPadding": 6, "titlePadding": 0}},
               "y": {"field": "v", "type": "quantitative", "scale": {"domain": [0, 1], "nice": false}, "axis": {"values": [0,0.1,0.2,0.3,0.4,0.5,0.6,0.7,0.8,0.9,1], "format": ".1~f", "title": "Speed pu value", "titlePadding": 9}}}},
            {"data": {"values": [{"t": 0, "v": 0}]}, "mark": {"type": "point", "opacity": 0},
             "encoding": {
               "x": {"field": "t", "type": "quantitative", "scale": {"domain": [0, 33], "nice": false}, "axis": {"orient": "top", "values": [0,5,10,15,20,25,30], "labels": false, "title": null}},
               "y": {"field": "v", "type": "quantitative", "scale": {"domain": [0, 1], "nice": false}, "axis": {"orient": "right", "values": [0,0.1,0.2,0.3,0.4,0.5,0.6,0.7,0.8,0.9,1], "labels": false, "title": null}}}}
          ],
          "resolve": {"axis": {"x": "independent", "y": "independent"}}
        },
        {"width": 100, "height": 65, "view": {"stroke": null}, "data": {"values": []}, "mark": "point"},
        {"width": 301, "height": 20, "view": {"stroke": null}, "data": {"values": []}, "mark": "point",
         "title": {"text": "(b)\u3000\u3000速度", "font": "'Liberation Serif', 'Noto Sans CJK TC'", "fontSize": 13, "color": "#111111", "offset": 0, "baseline": "alphabetic", "anchor": "middle", "frame": "group"}},
        {
          "width": 310, "height": 185, "title": {"text": "CURRENT", "fontSize": 9, "offset": -1},
          "layer": [
            {"data": {"values": [
              {"t": 0, "v": 1}, {"t": 10.2, "v": 1}, {"t": 10.25, "v": 0.93}, {"t": 10.6, "v": 0.87}, {"t": 11.0, "v": 0.76},
              {"t": 11.1, "v": 0.72}, {"t": 11.2, "v": 0.735}, {"t": 33, "v": 0.735}]},
             "mark": "line",
             "encoding": {
               "x": {"field": "t", "type": "quantitative", "scale": {"domain": [0, 33], "nice": false}, "axis": {"values": [0,5,10,15,20,25,30], "title": "Time (sec)", "titleFontSize": 9, "labelPadding": 6, "titlePadding": 0}},
               "y": {"field": "v", "type": "quantitative", "scale": {"domain": [0, 2], "nice": false}, "axis": {"values": [0,0.2,0.4,0.6,0.8,1,1.2,1.4,1.6,1.8,2], "format": ".1~f", "title": "Isdref pu value", "titlePadding": 7}}}},
            {"data": {"values": [{"t": 0, "v": 0}]}, "mark": {"type": "point", "opacity": 0},
             "encoding": {
               "x": {"field": "t", "type": "quantitative", "scale": {"domain": [0, 33], "nice": false}, "axis": {"orient": "top", "values": [0,5,10,15,20,25,30], "labels": false, "title": null}},
               "y": {"field": "v", "type": "quantitative", "scale": {"domain": [0, 2], "nice": false}, "axis": {"orient": "right", "values": [0,0.2,0.4,0.6,0.8,1,1.2,1.4,1.6,1.8,2], "labels": false, "title": null}}}}
          ],
          "resolve": {"axis": {"x": "independent", "y": "independent"}}
        }
      ],
      "spacing": 0,
      "bounds": "flush"
    }
  ]
}
